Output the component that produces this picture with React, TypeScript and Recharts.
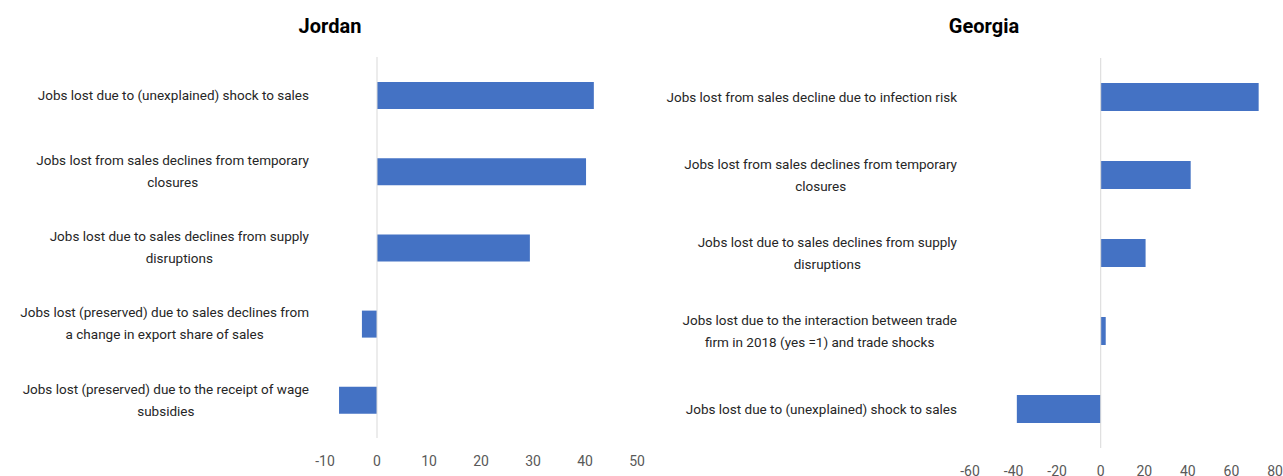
import React from "react";
import { Bar, BarChart, ReferenceLine, XAxis, YAxis } from "recharts";

const FONT = '"Liberation Sans Narrow", Roboto, sans-serif';
const BAR_COLOR = "#4472C4";

const jordanCategories = [
  "Jobs lost due to (unexplained) shock to sales",
  "Jobs lost from sales declines from temporary\nclosures",
  "Jobs lost due to sales declines from supply\ndisruptions",
  "Jobs lost (preserved) due to sales declines from\na change in export share of sales",
  "Jobs lost (preserved) due to the receipt of wage\nsubsidies",
];
const jordanValues = [41.7, 40.2, 29.4, -2.9, -7.3];
const jordanTicks = [-10, 0, 10, 20, 30, 40, 50];

const georgiaCategories = [
  "Jobs lost from sales decline due to infection risk",
  "Jobs lost from sales declines from temporary\nclosures",
  "Jobs lost due to sales declines from supply\ndisruptions",
  "Jobs lost due to the interaction between trade\nfirm in 2018 (yes =1) and trade shocks",
  "Jobs lost due to (unexplained) shock to sales",
];
const georgiaValues = [72.5, 41.3, 20.6, 2.3, -38.5];
const georgiaTicks = [-60, -40, -20, 0, 20, 40, 60, 80];

const LABEL_SIZE = 13.5;

let ctx: CanvasRenderingContext2D | null = null;
function measure(text: string, size: number) {
  if (!ctx) ctx = document.createElement("canvas").getContext("2d");
  if (!ctx) return text.length * size * 0.45;
  ctx.font = `${size}px ${FONT}`;
  return ctx.measureText(text).width;
}

function CategoryTick(props: any) {
  const { y, payload, rightEdge } = props;
  const lines = String(payload.value).split("\n");
  const lh = 22;
  const w = Math.max(...lines.map((l) => measure(l, LABEL_SIZE)));
  const cx = rightEdge - w / 2;
  const y0 = y - ((lines.length - 1) * lh) / 2;
  return (
    <text textAnchor="middle" fontFamily={FONT} fontSize={LABEL_SIZE} fill="#262626">
      {lines.map((l, i) => (
        <tspan key={i} x={cx} y={y0 + i * lh} dy="0.35em">
          {l}
        </tspan>
      ))}
    </text>
  );
}

type PanelProps = {
  title: string;
  categories: string[];
  values: number[];
  ticks: number[];
  width: number;
  left: number;
  titleX: number;
  axisWidth: number;
  labelRight: number;
  top: number;
  bottom: number;
  right: number;
  barSize: number;
};

function Panel(p: PanelProps) {
  const data = p.categories.map((name, i) => ({ name, value: p.values[i] }));
  return (
    <>
      <div
        style={{
          position: "absolute",
          left: p.titleX - 100,
          top: 14,
          width: 200,
          textAlign: "center",
          fontFamily: FONT,
          fontWeight: 700,
          fontSize: 20,
          color: "#000",
        }}
      >
        {p.title}
      </div>
      <div style={{ position: "absolute", left: p.left, top: 0 }}>
        <BarChart
          width={p.width}
          height={476}
          data={data}
          layout="vertical"
          margin={{ top: p.top, bottom: p.bottom, left: 0, right: p.right }}
          style={{ overflow: "visible" }}
        >
          <XAxis
            type="number"
            domain={[p.ticks[0], p.ticks[p.ticks.length - 1]]}
            ticks={p.ticks}
            axisLine={false}
            tickLine={false}
            height={30}
            tickMargin={12}
            interval={0}
            tick={{ fill: "#595959", fontSize: 14, fontFamily: FONT }}
          />
          <YAxis
            type="category"
            dataKey="name"
            width={p.axisWidth}
            axisLine={false}
            tickLine={false}
            interval={0}
            tick={<CategoryTick rightEdge={p.labelRight} />}
          />
          <ReferenceLine x={0} stroke="#d9d9d9" strokeWidth={1} />
          <Bar dataKey="value" fill={BAR_COLOR} barSize={p.barSize} isAnimationActive={false} />
        </BarChart>
      </div>
    </>
  );
}

export default function App() {
  return (
    <div
      style={{
        position: "absolute",
        left: 0,
        top: 0,
        width: 1283,
        height: 476,
        background: "#fff",
        overflow: "hidden",
      }}
    >
      <Panel
        title="Jordan"
        categories={jordanCategories}
        values={jordanValues}
        ticks={jordanTicks}
        width={660}
        left={0}
        titleX={330}
        axisWidth={325}
        labelRight={309}
        top={57}
        bottom={8}
        right={23}
        barSize={27}
      />
      <Panel
        title="Georgia"
        categories={georgiaCategories}
        values={georgiaValues}
        ticks={georgiaTicks}
        width={623}
        left={660}
        titleX={984}
        axisWidth={310}
        labelRight={297}
        top={58}
        bottom={-2}
        right={8}
        barSize={28}
      />
    </div>
  );
}
